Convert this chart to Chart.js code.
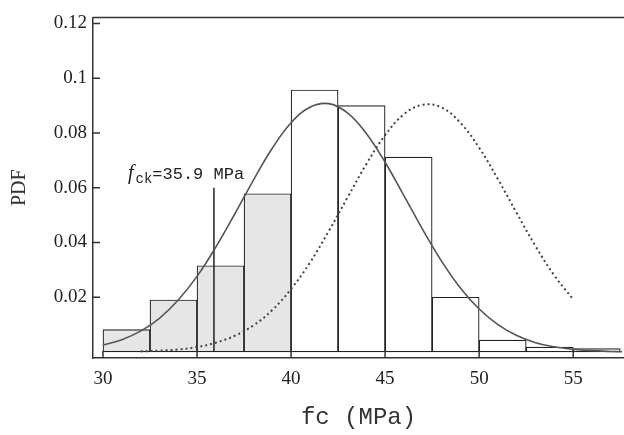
<!DOCTYPE html>
<html>
<head>
<meta charset="utf-8">
<script src="https://cdn.jsdelivr.net/npm/chart.js@4"></script>
<style>
  html, body { margin: 0; padding: 0; background: #fff; }
  #wrap { width: 624px; height: 435px; }
</style>
</head>
<body>
<div id="wrap"><canvas id="pdfChart" width="624" height="435"></canvas></div>
<script>
// histogram bins (left edges, MPa) and densities
const binStarts = [30, 32.5, 35, 37.5, 40, 42.5, 45, 47.5, 50, 52.5, 55];
const binWidth = 2.5;
const binHeights = [0.0082, 0.019, 0.0315, 0.0578, 0.0957, 0.090, 0.0712, 0.020, 0.0043, 0.0018, 0.0012];
const shadedBins = 4; // bins below fck are shaded

// fitted PDF (solid)
const fitX = [30, 31, 32, 33, 34, 35, 36, 37, 38, 39, 40, 41, 42, 43, 44, 45, 46, 47, 48, 49, 50, 51, 52, 53, 54, 55, 56, 57, 57.6];
const fitY = [0.0025, 0.0045, 0.0076, 0.0123, 0.0190, 0.0276, 0.0383, 0.0503, 0.0628, 0.0744, 0.0837, 0.0894, 0.0907, 0.0873, 0.0798, 0.0693, 0.0571, 0.0447, 0.0332, 0.0234, 0.0157, 0.0100, 0.0060, 0.0034, 0.0019, 0.0010, 0.0005, 0.0002, 0.0001];

// shifted PDF (dotted)
const shiftX = [32, 33, 34, 35, 36, 37, 38, 39, 40, 41, 42, 43, 44, 45, 46, 47, 48, 49, 50, 51, 52, 53, 54, 55];
const shiftY = [0.0002, 0.0005, 0.0009, 0.0018, 0.0034, 0.0059, 0.0097, 0.0153, 0.0230, 0.0326, 0.0441, 0.0564, 0.0686, 0.0792, 0.0868, 0.0903, 0.0893, 0.0837, 0.0746, 0.0631, 0.0507, 0.0386, 0.0279, 0.0192];

const fck = 35.9;
const fckTop = 0.06;

const xTicks = [30, 35, 40, 45, 50, 55];
const yTicks = [0.02, 0.04, 0.06, 0.08, 0.1, 0.12];

const barData = binStarts.map((s, i) => ({ x: s + binWidth / 2, y: binHeights[i] }));
const barFill = binStarts.map((s, i) => i < shadedBins ? '#e6e6e6' : '#ffffff');

// frame line on top + inward ticks + fck label
const decorations = {
  id: 'decorations',
  afterDraw(chart) {
    const { ctx, chartArea, scales } = chart;
    const x = scales.x, y = scales.y;
    ctx.save();
    ctx.strokeStyle = '#333';
    ctx.lineWidth = 1.5;
    ctx.beginPath();
    ctx.moveTo(chartArea.left, chartArea.top);
    ctx.lineTo(chartArea.right, chartArea.top);
    xTicks.forEach(v => {
      const px = x.getPixelForValue(v);
      ctx.moveTo(px, chartArea.bottom);
      ctx.lineTo(px, chartArea.bottom - 7);
    });
    yTicks.forEach(v => {
      const py = y.getPixelForValue(v);
      ctx.moveTo(chartArea.left, py);
      ctx.lineTo(chartArea.left + 7, py);
    });
    ctx.stroke();

    // f_ck label
    const lx = x.getPixelForValue(fck) - 86;
    const ly = y.getPixelForValue(fckTop) - 9;
    ctx.fillStyle = '#222';
    ctx.textBaseline = 'alphabetic';
    ctx.font = 'italic 20px "Liberation Serif"';
    ctx.fillText('f', lx, ly);
    let w = ctx.measureText('f').width + 2;
    ctx.font = '14px "Liberation Mono"';
    ctx.fillText('ck', lx + w, ly + 4);
    w += ctx.measureText('ck').width;
    ctx.font = '17px "Liberation Mono"';
    ctx.fillText('=35.9 MPa', lx + w, ly);
    ctx.restore();
  }
};

new Chart(document.getElementById('pdfChart').getContext('2d'), {
  type: 'bar',
  data: {
    datasets: [
      {
        type: 'line',
        data: fitX.map((v, i) => ({ x: v, y: fitY[i] })),
        borderColor: '#555',
        borderWidth: 1.6,
        pointRadius: 0,
        tension: 0.4,
        fill: false,
        order: 1
      },
      {
        type: 'line',
        data: shiftX.map((v, i) => ({ x: v, y: shiftY[i] })),
        borderColor: '#444',
        borderWidth: 2,
        borderDash: [2, 3],
        pointRadius: 0,
        tension: 0.4,
        fill: false,
        order: 2
      },
      {
        type: 'line',
        data: [{ x: fck, y: 0 }, { x: fck, y: fckTop }],
        borderColor: '#222',
        borderWidth: 1.5,
        pointRadius: 0,
        fill: false,
        order: 3
      },
      {
        type: 'bar',
        data: barData,
        backgroundColor: barFill,
        borderColor: '#222',
        borderWidth: 1.2,
        borderSkipped: false,
        barPercentage: 1,
        categoryPercentage: 1,
        order: 4
      }
    ]
  },
  options: {
    responsive: false,
    animation: false,
    layout: { padding: { top: 14, right: 0, left: 0, bottom: 0 } },
    plugins: { legend: { display: false }, tooltip: { enabled: false } },
    scales: {
      x: {
        type: 'linear',
        offset: false,
        min: 29.47,
        max: 57.7,
        afterBuildTicks: s => { s.ticks = xTicks.map(v => ({ value: v })); },
        afterFit: s => { s.height = 77; },
        grid: { display: false, drawTicks: false, offset: false },
        border: { display: true, color: '#333', width: 1.5 },
        ticks: {
          padding: 10,
          color: '#222',
          font: { family: '"Liberation Serif"', size: 19 },
          callback: v => String(v)
        },
        title: {
          display: true,
          text: 'fc (MPa)',
          color: '#333',
          font: { family: '"Liberation Mono"', size: 24 },
          padding: { top: 0, bottom: 3 }
        }
      },
      y: {
        min: -0.0022,
        max: 0.1222,
        afterBuildTicks: s => { s.ticks = yTicks.map(v => ({ value: v })); },
        afterFit: s => { s.width = 93; },
        grid: { display: false, drawTicks: false },
        border: { display: true, color: '#333', width: 1.5 },
        ticks: {
          padding: 6,
          color: '#222',
          font: { family: '"Liberation Serif"', size: 19 },
          callback: v => String(Math.round(v * 100) / 100)
        },
        title: {
          display: true,
          text: 'PDF',
          color: '#333',
          font: { family: '"Liberation Serif"', size: 20 },
          padding: { top: 8, bottom: 0 }
        }
      }
    }
  },
  plugins: [decorations]
});
</script>
</body>
</html>
